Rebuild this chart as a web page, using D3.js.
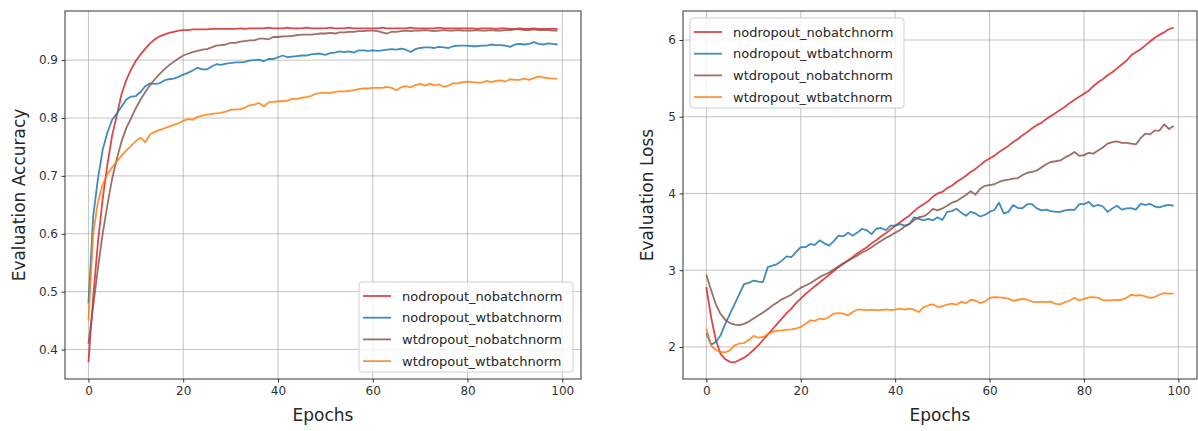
<!DOCTYPE html>
<html>
<head>
<meta charset="utf-8">
<script src="https://cdn.jsdelivr.net/npm/d3@7"></script>
<style>
  body { margin: 0; background: #fff; }
  svg { display: block; font-family: "DejaVu Sans", sans-serif; }
</style>
</head>
<body>
<svg id="canvas"></svg>
<script>
const W = 1198, H = 431;

const seriesNames = ["nodropout_nobatchnorm", "nodropout_wtbatchnorm", "wtdropout_nobatchnorm", "wtdropout_wtbatchnorm"];
const seriesColors = ["#d62728", "#1f77b4", "#8c564b", "#ff7f0e"];
const xTicks = [0, 20, 40, 60, 80, 100];
const accTicks = [0.4, 0.5, 0.6, 0.7, 0.8, 0.9];
const lossTicks = [2, 3, 4, 5, 6];

// evaluation accuracy, one value per epoch (0..99)
const accNoDropNoBN = [
  0.378, 0.49, 0.585, 0.66, 0.72, 0.77, 0.805, 0.842, 0.866, 0.884,
  0.899, 0.91, 0.92, 0.929, 0.936, 0.941, 0.944, 0.947, 0.949, 0.951,
  0.952, 0.952, 0.953, 0.953, 0.953, 0.953, 0.954, 0.954, 0.954, 0.954,
  0.954, 0.954, 0.955, 0.954, 0.955, 0.955, 0.955, 0.955, 0.956, 0.955,
  0.955, 0.955, 0.956, 0.955, 0.955, 0.955, 0.956, 0.955, 0.955, 0.955,
  0.955, 0.956, 0.955, 0.955, 0.955, 0.956, 0.955, 0.955, 0.955, 0.955,
  0.955, 0.955, 0.956, 0.955, 0.955, 0.955, 0.955, 0.955, 0.956, 0.955,
  0.955, 0.955, 0.955, 0.955, 0.956, 0.955, 0.955, 0.955, 0.955, 0.955,
  0.955, 0.955, 0.954, 0.955, 0.955, 0.955, 0.954, 0.955, 0.955, 0.954,
  0.954, 0.955, 0.954, 0.954, 0.955, 0.954, 0.954, 0.954, 0.954, 0.954
];
const accNoDropWtBN = [
  0.48, 0.63, 0.695, 0.745, 0.775, 0.797, 0.808, 0.82, 0.832, 0.837,
  0.838, 0.845, 0.855, 0.86, 0.859, 0.86, 0.865, 0.867, 0.868, 0.871,
  0.875, 0.878, 0.882, 0.887, 0.884, 0.884, 0.889, 0.893, 0.892, 0.894,
  0.895, 0.896, 0.896, 0.897, 0.899, 0.9, 0.901, 0.898, 0.902, 0.902,
  0.905, 0.908, 0.905, 0.906, 0.907, 0.908, 0.908, 0.91, 0.911, 0.911,
  0.909, 0.912, 0.913, 0.915, 0.914, 0.915, 0.913, 0.917, 0.917, 0.916,
  0.917, 0.916, 0.917, 0.918, 0.919, 0.918, 0.92, 0.918, 0.914, 0.919,
  0.921, 0.922, 0.922, 0.921, 0.923, 0.922, 0.921, 0.924, 0.925, 0.925,
  0.925, 0.924, 0.924, 0.925, 0.925, 0.927, 0.926, 0.926, 0.925, 0.923,
  0.927, 0.928, 0.927, 0.928, 0.931, 0.928, 0.927, 0.929, 0.928, 0.927
];
const accWtDropNoBN = [
  0.41, 0.475, 0.54, 0.6, 0.65, 0.695, 0.73, 0.76, 0.783, 0.8,
  0.817, 0.832, 0.845, 0.857, 0.867, 0.876, 0.884, 0.891, 0.897, 0.903,
  0.908, 0.911, 0.914, 0.916, 0.918, 0.919, 0.922, 0.925, 0.926, 0.927,
  0.93, 0.93, 0.932, 0.933, 0.934, 0.934, 0.937, 0.937, 0.936, 0.94,
  0.94, 0.941, 0.941, 0.942, 0.943, 0.944, 0.944, 0.944, 0.945, 0.946,
  0.946, 0.947, 0.946, 0.948, 0.948, 0.949, 0.949, 0.95, 0.95, 0.951,
  0.951, 0.95, 0.948, 0.946, 0.949, 0.949, 0.95, 0.951, 0.95, 0.951,
  0.951, 0.952, 0.951, 0.95, 0.951, 0.952, 0.951, 0.951, 0.952, 0.951,
  0.951, 0.951, 0.952, 0.951, 0.951, 0.952, 0.951, 0.951, 0.952, 0.952,
  0.953, 0.953, 0.952, 0.952, 0.953, 0.952, 0.952, 0.952, 0.951, 0.951
];
const accWtDropWtBN = [
  0.45, 0.6, 0.655, 0.685, 0.703, 0.715, 0.725, 0.735, 0.744, 0.752,
  0.76, 0.766, 0.758, 0.772, 0.776, 0.779, 0.782, 0.785, 0.788, 0.791,
  0.795, 0.798, 0.797, 0.802, 0.804, 0.806, 0.807, 0.808, 0.809, 0.811,
  0.814, 0.815, 0.815, 0.818, 0.822, 0.823, 0.826, 0.82, 0.827, 0.828,
  0.829, 0.829, 0.83, 0.833, 0.833, 0.835, 0.836, 0.838, 0.842, 0.843,
  0.844, 0.843, 0.845, 0.846, 0.846, 0.847, 0.848, 0.85, 0.851, 0.851,
  0.852, 0.852, 0.852, 0.854, 0.852, 0.848, 0.853, 0.855, 0.853, 0.857,
  0.859, 0.856, 0.859, 0.857, 0.858, 0.854, 0.856, 0.86, 0.86, 0.862,
  0.863, 0.862, 0.861, 0.861, 0.864, 0.862, 0.864, 0.865, 0.863, 0.867,
  0.866, 0.866, 0.868, 0.866, 0.869, 0.872, 0.87, 0.869, 0.868, 0.868
];

// evaluation loss, one value per epoch (0..99)
const lossNoDropNoBN = [
  2.78, 2.39, 2.09, 1.91, 1.84, 1.805, 1.8, 1.83, 1.86, 1.905,
  1.96, 2.02, 2.09, 2.16, 2.23, 2.3, 2.37, 2.44, 2.5, 2.57,
  2.63, 2.69, 2.74, 2.79, 2.84, 2.89, 2.94, 2.99, 3.04, 3.08,
  3.13, 3.17, 3.22, 3.26, 3.3, 3.35, 3.39, 3.44, 3.48, 3.53,
  3.58, 3.62, 3.67, 3.71, 3.77, 3.82, 3.86, 3.9, 3.96, 4.0,
  4.02, 4.07, 4.1, 4.15, 4.19, 4.23, 4.28, 4.32, 4.37, 4.42,
  4.455, 4.49, 4.54, 4.58, 4.62, 4.67, 4.71, 4.76, 4.8, 4.85,
  4.89, 4.92, 4.97, 5.01, 5.05, 5.09, 5.13, 5.18, 5.22, 5.26,
  5.3, 5.34, 5.4, 5.45, 5.49, 5.54, 5.58, 5.63, 5.68, 5.73,
  5.8, 5.84, 5.88, 5.93, 5.98, 6.03, 6.07, 6.1, 6.14, 6.16
];
const lossNoDropWtBN = [
  2.18, 2.03, 2.065, 2.15, 2.3, 2.43, 2.56, 2.69, 2.82, 2.835,
  2.865, 2.85, 2.845, 3.04, 3.06, 3.08, 3.125, 3.18, 3.17, 3.235,
  3.3, 3.3, 3.34, 3.33, 3.39, 3.35, 3.32, 3.38, 3.45, 3.44,
  3.49, 3.45, 3.49, 3.54, 3.52, 3.47, 3.54, 3.55, 3.52, 3.58,
  3.58, 3.6, 3.58, 3.6, 3.69, 3.67, 3.65, 3.67, 3.65, 3.69,
  3.655, 3.76, 3.77, 3.8, 3.75, 3.71, 3.76, 3.74, 3.7, 3.72,
  3.76, 3.785, 3.88, 3.74, 3.76, 3.85, 3.81, 3.81, 3.86, 3.86,
  3.805, 3.78, 3.79, 3.77, 3.76, 3.76, 3.78, 3.79, 3.785, 3.86,
  3.86, 3.89, 3.83, 3.85, 3.83, 3.76, 3.805, 3.84, 3.79, 3.805,
  3.81, 3.79, 3.865, 3.85, 3.865, 3.83, 3.82, 3.84, 3.85, 3.84
];
const lossWtDropNoBN = [
  2.94, 2.74, 2.555, 2.43, 2.355, 2.31, 2.29, 2.285, 2.3, 2.33,
  2.37, 2.41, 2.45, 2.49, 2.54, 2.58, 2.62, 2.65, 2.68, 2.73,
  2.77, 2.8, 2.83, 2.87, 2.91, 2.94, 2.97, 3.01, 3.05, 3.09,
  3.12, 3.16, 3.19, 3.23, 3.26, 3.3, 3.34, 3.38, 3.42, 3.45,
  3.49, 3.52, 3.57, 3.6, 3.65, 3.69, 3.7, 3.74, 3.8, 3.78,
  3.805, 3.84, 3.88, 3.9, 3.94, 3.98, 4.03, 3.985, 4.06, 4.1,
  4.11, 4.12, 4.15, 4.17, 4.18, 4.195, 4.2, 4.24, 4.27, 4.28,
  4.3, 4.34, 4.38, 4.41, 4.42, 4.43, 4.47, 4.5, 4.54, 4.49,
  4.5, 4.53, 4.52, 4.56, 4.6, 4.65, 4.67, 4.68, 4.66, 4.66,
  4.65, 4.64, 4.72, 4.78, 4.77, 4.82, 4.82, 4.9, 4.84, 4.88
];
const lossWtDropWtBN = [
  2.24, 2.02, 1.96, 1.935, 1.93, 1.955, 2.02, 2.045, 2.05, 2.09,
  2.145, 2.12, 2.13, 2.165, 2.195, 2.21, 2.215, 2.225, 2.23, 2.24,
  2.26, 2.3, 2.345, 2.34, 2.37, 2.36, 2.39, 2.435, 2.44, 2.435,
  2.41, 2.455, 2.485, 2.485, 2.48, 2.485, 2.48, 2.48, 2.49, 2.48,
  2.485, 2.5, 2.485, 2.5, 2.485, 2.455, 2.52, 2.54, 2.555, 2.52,
  2.53, 2.55, 2.565, 2.55, 2.59, 2.57, 2.615, 2.605, 2.57, 2.59,
  2.64, 2.65, 2.645, 2.64, 2.63, 2.6, 2.615, 2.625, 2.615, 2.59,
  2.585, 2.59, 2.585, 2.59, 2.56, 2.555, 2.585, 2.605, 2.64, 2.605,
  2.625, 2.645, 2.65, 2.64, 2.61, 2.605, 2.61, 2.61, 2.615, 2.64,
  2.68, 2.67, 2.675, 2.66, 2.64, 2.65, 2.68, 2.7, 2.695, 2.695
];

const accSeries = [accNoDropNoBN, accNoDropWtBN, accWtDropNoBN, accWtDropWtBN];
const lossSeries = [lossNoDropNoBN, lossNoDropWtBN, lossWtDropNoBN, lossWtDropWtBN];

const svg = d3.select("#canvas").attr("width", W).attr("height", H);

function drawPanel(opt) {
  const {left, right, top, bottom, series, yTicks, yFmt, yLabel, yLabelX, legendBox} = opt;
  const all = series.flat();
  const n = series[0].length;
  const xPad = (n - 1) * 0.05;
  const yMin = d3.min(all), yMax = d3.max(all), yPad = (yMax - yMin) * 0.05;

  const x = d3.scaleLinear().domain([-xPad, n - 1 + xPad]).range([left, right]);
  const y = d3.scaleLinear().domain([yMin - yPad, yMax + yPad]).range([bottom, top]);

  const g = svg.append("g");

  // grid
  g.append("g").selectAll("line").data(xTicks).join("line")
    .attr("x1", d => x(d)).attr("x2", d => x(d))
    .attr("y1", top).attr("y2", bottom)
    .attr("stroke", "#b0b0b0").attr("stroke-width", 1).attr("opacity", 0.75);
  g.append("g").selectAll("line").data(yTicks).join("line")
    .attr("x1", left).attr("x2", right)
    .attr("y1", d => y(d)).attr("y2", d => y(d))
    .attr("stroke", "#b0b0b0").attr("stroke-width", 1).attr("opacity", 0.75);

  // lines
  const line = d3.line().x((d, i) => x(i)).y(d => y(d));
  g.append("g").selectAll("path").data(series).join("path")
    .attr("d", line)
    .attr("fill", "none")
    .attr("stroke", (d, i) => seriesColors[i])
    .attr("stroke-width", 1.8)
    .attr("stroke-opacity", 0.85)
    .attr("stroke-linejoin", "round");

  // axes
  const xAxis = d3.axisBottom(x).tickValues(xTicks).tickSize(3.5).tickPadding(3.5).tickSizeOuter(0);
  const yAxis = d3.axisLeft(y).tickValues(yTicks).tickFormat(yFmt).tickSize(3.5).tickPadding(3.5).tickSizeOuter(0);
  const gx = g.append("g").attr("transform", `translate(0,${bottom})`).call(xAxis);
  const gy = g.append("g").attr("transform", `translate(${left},0)`).call(yAxis);
  [gx, gy].forEach(a => {
    a.select(".domain").remove();
    a.selectAll("line").attr("stroke", "#333");
    a.selectAll("text").attr("fill", "#333").style("font-size", "12px").style("font-family", "DejaVu Sans");
  });

  // spines
  g.append("rect")
    .attr("x", left).attr("y", top)
    .attr("width", right - left).attr("height", bottom - top)
    .attr("fill", "none").attr("stroke", "#333").attr("stroke-width", 1);

  // labels
  g.append("text")
    .attr("x", (left + right) / 2).attr("y", 421)
    .attr("text-anchor", "middle")
    .attr("fill", "#262626").style("font-size", "17px")
    .text("Epochs");
  g.append("text")
    .attr("transform", `translate(${yLabelX},${(top + bottom) / 2}) rotate(-90)`)
    .attr("text-anchor", "middle")
    .attr("fill", "#262626").style("font-size", "17px")
    .text(yLabel);

  // legend
  const lg = g.append("g").attr("transform", `translate(${legendBox.x},${legendBox.y})`);
  lg.append("rect")
    .attr("width", legendBox.w).attr("height", legendBox.h)
    .attr("rx", 3)
    .attr("fill", "#fff").attr("fill-opacity", 0.8)
    .attr("stroke", "#d0d0d0");
  const items = lg.selectAll("g").data(seriesNames).join("g")
    .attr("transform", (d, i) => `translate(0,${14 + i * 21.7})`);
  items.append("line")
    .attr("x1", 4).attr("x2", 32)
    .attr("stroke", (d, i) => seriesColors[i])
    .attr("stroke-width", 1.8).attr("stroke-opacity", 0.85);
  items.append("text")
    .attr("x", 43).attr("dy", "0.35em")
    .attr("fill", "#262626").style("font-size", "13px")
    .text(d => d);
}

drawPanel({
  left: 65, right: 581, top: 11, bottom: 379,
  series: accSeries, yTicks: accTicks, yFmt: d3.format(".1f"),
  yLabel: "Evaluation Accuracy", yLabelX: 25,
  legendBox: {x: 359, y: 282, w: 214, h: 90}
});

drawPanel({
  left: 683, right: 1197, top: 11, bottom: 379,
  series: lossSeries, yTicks: lossTicks, yFmt: d3.format("d"),
  yLabel: "Evaluation Loss", yLabelX: 653,
  legendBox: {x: 690, y: 18, w: 214, h: 90}
});
</script>
</body>
</html>
